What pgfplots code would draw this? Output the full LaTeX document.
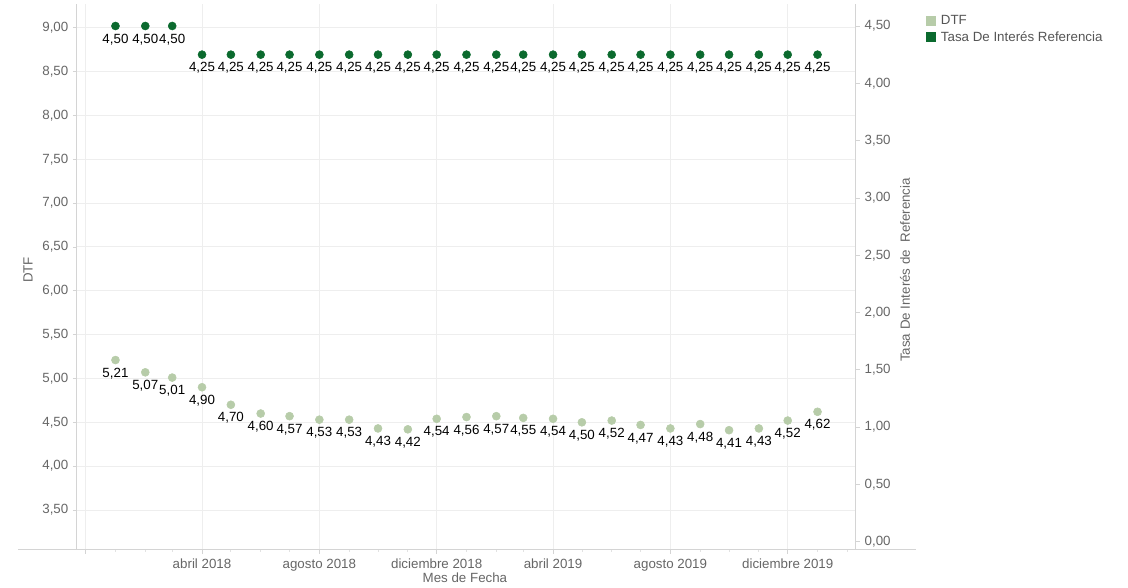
\documentclass[border=0pt]{standalone}
\usepackage{pgfplots}
\pgfplotsset{compat=1.18}
\usepackage{fontspec}
\setmainfont{Liberation Sans}
\definecolor{dtf}{HTML}{B7CCA9}
\definecolor{tasa}{HTML}{0B6A2E}
\definecolor{ticklab}{HTML}{666666}
\definecolor{legtext}{HTML}{555555}
\definecolor{axline}{HTML}{D4D4D4}
\definecolor{minortick}{HTML}{E2E2E2}
\definecolor{gridc}{HTML}{EEEEEE}

\begin{document}
\begin{tikzpicture}
\useasboundingbox (0,0) rectangle (846pt,441pt);
\pgfplotsset{
  common/.style={
    at={(57.75pt,28.5pt)}, anchor=south west,
    scale only axis, width=584.25pt, height=409.5pt,
    xmin=-40, xmax=770,
    font=\fontsize{10}{12}\selectfont,
    tick align=outside,
    major tick length=3pt, minor tick length=1.5pt,
    tick style={axline, line width=0.6pt},
    minor tick style={minortick, line width=0.6pt},
    ticklabel style={text=ticklab, font=\fontsize{10}{12}\selectfont},
    /pgf/number format/use comma,
    /pgf/number format/fixed,
    /pgf/number format/fixed zerofill,
    /pgf/number format/precision=2,
    /pgf/number format/1000 sep={},
    /pgf/number format/assume math mode=true,
    every node near coord/.style={text=black, font=\fontsize{10}{12}\selectfont, anchor=center, yshift=-10pt, inner sep=0pt},
    axis line style={axline, line width=0.75pt},
  }
}
\begin{axis}[common, name=ax1,
  ymin=3.044, ymax=9.27,
  axis x line*=bottom, axis y line*=left,
  ytick={3.5,4,4.5,5,5.5,6,6.5,7,7.5,8,8.5,9},
  ymajorgrids, xmajorgrids,
  grid style={gridc, line width=0.75pt},
  xtick={-31,90,212,334,455,577,699},
  xticklabels={,abril 2018,agosto 2018,diciembre 2018,abril 2019,agosto 2019,diciembre 2019},
  minor xtick={0,31,59,120,151,181,243,273,304,365,396,424,485,516,546,608,638,669,730,761},
  ylabel={DTF}, xlabel={Mes de Fecha},
  every axis y label/.style={at={(axis description cs:-0.063,0.513)}, rotate=90, anchor=center, text=ticklab, font=\fontsize{10}{12}\selectfont},
  every axis x label/.style={at={(axis description cs:0.498,-0.051)}, anchor=center, text=ticklab, font=\fontsize{10}{12}\selectfont},
]
\addplot[only marks, mark=*, mark size=3pt, color=dtf, nodes near coords, point meta=y] coordinates {
(0,5.21) (31,5.07) (59,5.01) (90,4.90) (120,4.70) (151,4.60) (181,4.57) (212,4.53)
(243,4.53) (273,4.43) (304,4.42) (334,4.54) (365,4.56) (396,4.57) (424,4.55) (455,4.54)
(485,4.50) (516,4.52) (546,4.47) (577,4.43) (608,4.48) (638,4.41) (669,4.43) (699,4.52) (730,4.62)
};
\end{axis}
\begin{axis}[common,
  ymin=-0.072, ymax=4.692,
  axis y line*=right, axis x line=none,
  ytick={0,0.5,1,1.5,2,2.5,3,3.5,4,4.5},
  ylabel={Tasa De Interés de\ \ Referencia},
  every axis y label/.style={at={(axis description cs:1.063,0.513)}, rotate=90, anchor=center, text=ticklab, font=\fontsize{10}{12}\selectfont},
  legend style={at={(axis description cs:1.089,0.983)}, anchor=north west, draw=none, fill=none,
    font=\fontsize{10}{12}\selectfont, text=legtext, inner sep=0pt, row sep=0.5pt,
    nodes={inner sep=1.5pt}},
  legend cell align=left,
]
\addlegendimage{legend image code/.code={\fill[dtf, draw=none] (0pt,-3.75pt) rectangle (7.5pt,3.75pt); \path[draw=none, fill=none] (0pt,0pt) -- (10pt,0pt);}}
\addlegendentry{DTF}
\addlegendimage{legend image code/.code={\fill[tasa, draw=none] (0pt,-3.75pt) rectangle (7.5pt,3.75pt); \path[draw=none, fill=none] (0pt,0pt) -- (10pt,0pt);}}
\addlegendentry{Tasa De Interés Referencia}
\addplot[only marks, mark=*, mark size=3pt, color=tasa, nodes near coords, point meta=y, forget plot] coordinates {
(0,4.50) (31,4.50) (59,4.50) (90,4.25) (120,4.25) (151,4.25) (181,4.25) (212,4.25)
(243,4.25) (273,4.25) (304,4.25) (334,4.25) (365,4.25) (396,4.25) (424,4.25) (455,4.25)
(485,4.25) (516,4.25) (546,4.25) (577,4.25) (608,4.25) (638,4.25) (669,4.25) (699,4.25) (730,4.25)
};
\end{axis}
\draw[axline, line width=0.75pt] ([xshift=-44.25pt]ax1.south west) -- ([xshift=45pt]ax1.south east);
\end{tikzpicture}
\end{document}
